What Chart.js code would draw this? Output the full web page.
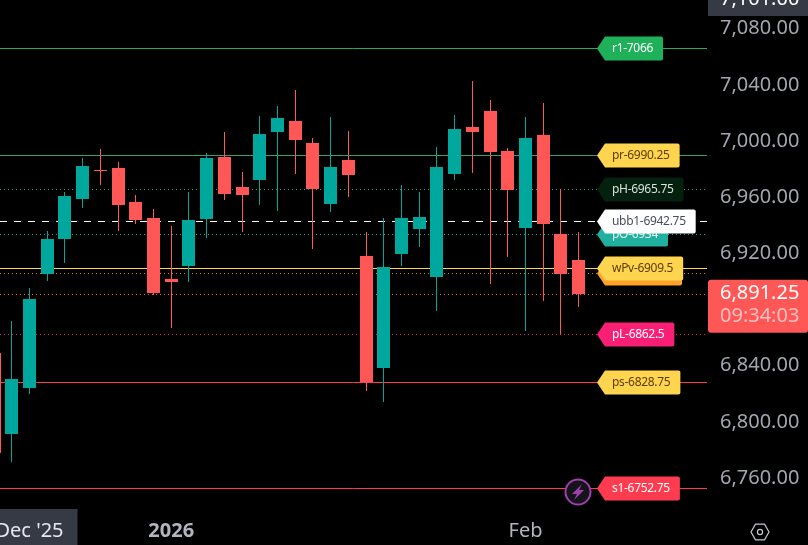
<!DOCTYPE html>
<html>
<head>
<meta charset="utf-8">
<title>ES chart</title>
<script src="https://cdn.jsdelivr.net/npm/chart.js@4"></script>
<style>
  html, body { margin: 0; padding: 0; background: #000; }
  canvas { display: block; }
</style>
</head>
<body>
<canvas id="grafico" width="808" height="545"></canvas>
<script>
// Velas
const opens = [6849, 6791.75, 6824.5, 6905.25, 6930.25, 6958.75, 6979.5, 6980.75, 6956.5, 6945.25, 6901.75, 6911, 6944.5, 6988.5, 6967.25, 6972.25, 7006.5, 7014.25, 6998.5, 6955.25, 6986.5, 6918.25, 6838.5, 6919.5, 6937.5, 6903.25, 6976.5, 7010, 7021.5, 6993, 6938, 7004.25, 6933.75, 6915.25];
const highs = [6849, 6872, 6895.25, 6936, 6963.75, 6988, 6994.25, 6985, 6961.5, 6951.5, 6939.5, 6963.75, 6991.5, 7006.5, 6978, 7017.75, 7025, 7036.25, 7002, 7017, 7007, 6935.25, 6945.25, 6968.75, 6963.75, 6995.75, 7018.5, 7042.75, 7029.25, 6995, 7017, 7027, 6966, 6935.25];
const lows = [6778, 6771.75, 6820, 6900.5, 6913.25, 6952.25, 6968.75, 6936, 6941, 6890.5, 6867, 6899.5, 6931, 6958, 6935.25, 6954.5, 6950.25, 6976.5, 6923, 6949.5, 6960.25, 6822, 6814.25, 6911, 6924.5, 6879, 6972.25, 6977.25, 6898.25, 6917.5, 6864.75, 6886, 6862.5, 6881.75];
const closes = [6778, 6830.5, 6887.5, 6930.25, 6961, 6982.25, 6978.75, 6954.5, 6943.75, 6891.75, 6899.5, 6943.75, 6988, 6962.25, 6961.5, 7005, 7016.5, 7000.75, 6966, 6981.5, 6975.75, 6828.5, 6910.25, 6945.25, 6946, 6981.5, 7008.5, 7006.5, 6992.25, 6965, 7002.25, 6941, 6905.25, 6891.25];

// Ejes
const priceTicks = [7080, 7040, 7000, 6960, 6920, 6840, 6800, 6760];
const dateTickIndexes = [2, 10, 30];
const dateTickLabels = ["Dec '25", '2026', 'Feb'];

// Niveles
const levelNames = ['', 'pO-6934', 'pH-6965.75', 'r1-7066', 'pr-6990.25', 'ubb1-6942.75', 'wPv-6909.5', 'pL-6862.5', 'ps-6828.75', 's1-6752.75'];
const levelValues = [6905.75, 6934, 6965.75, 7066, 6990.25, 6942.75, 6909.5, 6862.5, 6828.75, 6752.75];
const lastPrice = 6891.25;
const countdown = '09:34:03';
const topPrice = 7101;

const TEAL = '#00a79d';
const ROJO = '#ff5656';
const FONT = '"Noto Sans", sans-serif';
const dotted = [1, 3];
const dashed = [7, 7];

// Estilo de cada nivel, en el mismo orden que levelNames
const levelStyles = [
    { line: '#c9852b', dash: dotted, tag: '#ffa22b', text: '#5c3c05', width: 79 },
    { line: '#1f9e90', dash: dotted, tag: '#1fb0a0', text: '#e8f5f3' },
    { line: '#1f9e5a', dash: dotted, tag: '#04200e', text: '#d7e3da' },
    { line: '#22ab5e', dash: [], tag: '#1fb15a', text: '#ffffff' },
    { line: '#35a06c', dash: [], tag: '#ffd44f', text: '#5c3c05' },
    { line: '#ffffff', dash: dashed, tag: '#ffffff', text: '#4a4e5c' },
    { line: '#ffd44f', dash: [], tag: '#ffd44f', text: '#5c3c05' },
    { line: '#e91e63', dash: dotted, tag: '#f81f75', text: '#ffffff' },
    { line: '#ff3b50', dash: [], tag: '#ffd44f', text: '#5c3c05' },
    { line: '#ff3b50', dash: [], tag: '#ff3b50', text: '#ffffff' }
];

const xMin = 0.3348;
const xMax = 40.246;

const colorVela = i => closes[i] >= opens[i] ? TEAL : ROJO;

const lineasNivel = levelValues.map((v, i) => ({
    type: 'line',
    order: 3,
    data: [{ x: xMin, y: v }, { x: xMax, y: v }],
    borderColor: levelStyles[i].line,
    borderWidth: 1,
    borderDash: levelStyles[i].dash,
    pointRadius: 0
}));

const lineaUltimo = {
    type: 'line',
    order: 3,
    data: [{ x: xMin, y: lastPrice }, { x: xMax, y: lastPrice }],
    borderColor: ROJO,
    borderWidth: 1,
    borderDash: dotted,
    pointRadius: 0
};

// Ajusta barras y lineas al pixel para que queden nitidas
const ajustePixel = {
    id: 'ajustePixel',
    afterDatasetsUpdate(chart) {
        chart.data.datasets.forEach((ds, i) => {
            chart.getDatasetMeta(i).data.forEach(el => {
                if (ds.type === 'line') {
                    el.y = Math.round(el.y) + 0.5;
                } else {
                    el.x = Math.floor(el.x) + 0.5;
                    el.y = Math.round(el.y);
                    el.base = Math.round(el.base);
                    if (el.y === el.base) el.base = el.y + 1;
                }
            });
        });
    }
};

function etiquetaNivel(ctx, y, nombre, st) {
    ctx.font = '12px ' + FONT;
    ctx.letterSpacing = '-0.3px';
    const izq = 603;
    const ancho = st.width || ctx.measureText(nombre).width + 19;
    const arriba = y - 12;
    const r = 2;
    ctx.beginPath();
    ctx.moveTo(597, y);
    ctx.lineTo(izq, arriba + 3);
    ctx.lineTo(izq + 2, arriba);
    ctx.lineTo(izq + ancho - r, arriba);
    ctx.arcTo(izq + ancho, arriba, izq + ancho, arriba + r, r);
    ctx.lineTo(izq + ancho, arriba + 24 - r);
    ctx.arcTo(izq + ancho, arriba + 24, izq + ancho - r, arriba + 24, r);
    ctx.lineTo(izq + 2, arriba + 24);
    ctx.lineTo(izq, arriba + 21);
    ctx.closePath();
    ctx.fillStyle = st.tag;
    ctx.fill();
    if (nombre) {
        ctx.fillStyle = st.text;
        ctx.textAlign = 'left';
        ctx.textBaseline = 'middle';
        ctx.fillText(nombre, izq + 9, y);
    }
    ctx.letterSpacing = '0px';
}

// Recuadros y etiquetas que no son parte de las series
const decoracion = {
    id: 'decoracion',
    beforeDraw(chart) {
        const ctx = chart.ctx;
        const px = chart.scales.x.getPixelForValue(dateTickIndexes[0]);
        ctx.save();
        ctx.fillStyle = '#363a45';
        ctx.fillRect(px - 48, chart.chartArea.bottom, 96, 36);
        ctx.restore();
    },
    afterDatasetsDraw(chart) {
        const ctx = chart.ctx;
        const y = chart.scales.y;
        ctx.save();

        levelValues.forEach((v, i) => {
            etiquetaNivel(ctx, Math.round(y.getPixelForValue(v)) + 0.5, levelNames[i], levelStyles[i]);
        });

        // Rayo
        const cx = 578, cy = 492;
        ctx.beginPath();
        ctx.arc(cx, cy, 12.5, 0, Math.PI * 2);
        ctx.fillStyle = '#14141a';
        ctx.fill();
        ctx.lineWidth = 2;
        ctx.strokeStyle = '#a03fae';
        ctx.stroke();
        ctx.beginPath();
        ctx.moveTo(cx + 4, cy - 8);
        ctx.lineTo(cx - 6, cy + 2);
        ctx.lineTo(cx - 1, cy + 2);
        ctx.lineTo(cx - 4, cy + 8);
        ctx.lineTo(cx + 6, cy - 2);
        ctx.lineTo(cx + 1, cy - 2);
        ctx.closePath();
        ctx.fillStyle = '#a03fae';
        ctx.fill();

        // Precio maximo arriba
        ctx.fillStyle = '#363a45';
        ctx.fillRect(708, 0, 100, 16);
        ctx.font = '20px ' + FONT;
        ctx.textAlign = 'left';
        ctx.textBaseline = 'middle';
        ctx.fillStyle = '#ffffff';
        ctx.fillText(formatoPrecio(topPrice), 720, y.getPixelForValue(topPrice));

        // Ultimo precio
        const py = y.getPixelForValue(lastPrice);
        ctx.fillStyle = ROJO;
        ctx.beginPath();
        ctx.roundRect(708, py - 14, 100, 53, 3);
        ctx.fill();
        ctx.fillStyle = '#ffffff';
        ctx.fillText(formatoPrecio(lastPrice), 720, py);
        ctx.fillStyle = 'rgba(255,255,255,0.62)';
        ctx.fillText(countdown, 720, py + 23);

        // Hexagono de ajustes
        const hx = 760, hy = 532;
        ctx.beginPath();
        for (let k = 0; k < 6; k++) {
            const a = Math.PI / 3 * k;
            const ex = hx + 9 * Math.cos(a);
            const ey = hy + 9 * Math.sin(a);
            if (k === 0) ctx.moveTo(ex, ey); else ctx.lineTo(ex, ey);
        }
        ctx.closePath();
        ctx.lineWidth = 1.2;
        ctx.strokeStyle = '#c3c6ce';
        ctx.stroke();
        ctx.beginPath();
        ctx.arc(hx, hy, 2.6, 0, Math.PI * 2);
        ctx.stroke();

        ctx.restore();
    }
};

function formatoPrecio(v) {
    return v.toLocaleString('en-US', { minimumFractionDigits: 2, maximumFractionDigits: 2 });
}

window.addEventListener('DOMContentLoaded', () => {
    new Chart(document.getElementById('grafico'), {
        type: 'bar',
        data: {
            datasets: [
                {
                    label: 'Cuerpo',
                    order: 1,
                    grouped: false,
                    barThickness: 13,
                    inflateAmount: 0,
                    data: opens.map((o, i) => ({ x: i, y: [o, closes[i]] })),
                    backgroundColor: opens.map((o, i) => colorVela(i))
                },
                {
                    label: 'Mecha',
                    order: 2,
                    grouped: false,
                    barThickness: 1,
                    inflateAmount: 0,
                    data: highs.map((h, i) => ({ x: i, y: [lows[i], h] })),
                    backgroundColor: opens.map((o, i) => colorVela(i))
                },
                lineaUltimo,
                ...lineasNivel
            ]
        },
        options: {
            responsive: false,
            animation: false,
            layout: { padding: 0 },
            plugins: {
                legend: { display: false },
                tooltip: { enabled: false }
            },
            scales: {
                x: {
                    type: 'linear',
                    min: xMin,
                    max: xMax,
                    offset: false,
                    border: { display: false },
                    grid: { display: false, drawTicks: false },
                    afterBuildTicks: scale => {
                        scale.ticks = dateTickIndexes.map(v => ({ value: v }));
                    },
                    afterFit: scale => {
                        scale.height = 36;
                        scale.paddingLeft = 0;
                        scale.paddingRight = 0;
                    },
                    ticks: {
                        autoSkip: false,
                        maxRotation: 0,
                        padding: 10,
                        callback: value => dateTickLabels[dateTickIndexes.indexOf(value)],
                        color: ctx => ctx.tick && ctx.tick.value === dateTickIndexes[0] ? '#e6e8ee' : '#b2b5be',
                        font: ctx => ({
                            family: FONT,
                            size: 20,
                            weight: ctx.tick && ctx.tick.value === dateTickIndexes[1] ? 'bold' : 'normal'
                        })
                    }
                },
                y: {
                    position: 'right',
                    min: 6738,
                    max: 7100.4,
                    border: { display: false },
                    grid: { display: false, drawTicks: false },
                    afterBuildTicks: scale => {
                        scale.ticks = priceTicks.map(v => ({ value: v }));
                    },
                    afterFit: scale => {
                        scale.width = 101;
                        scale.paddingTop = 0;
                        scale.paddingBottom = 0;
                    },
                    ticks: {
                        padding: 13,
                        crossAlign: 'near',
                        color: '#a3a6af',
                        font: { family: FONT, size: 20 },
                        callback: value => formatoPrecio(value)
                    }
                }
            }
        },
        plugins: [ajustePixel, decoracion]
    });
});
</script>
</body>
</html>
